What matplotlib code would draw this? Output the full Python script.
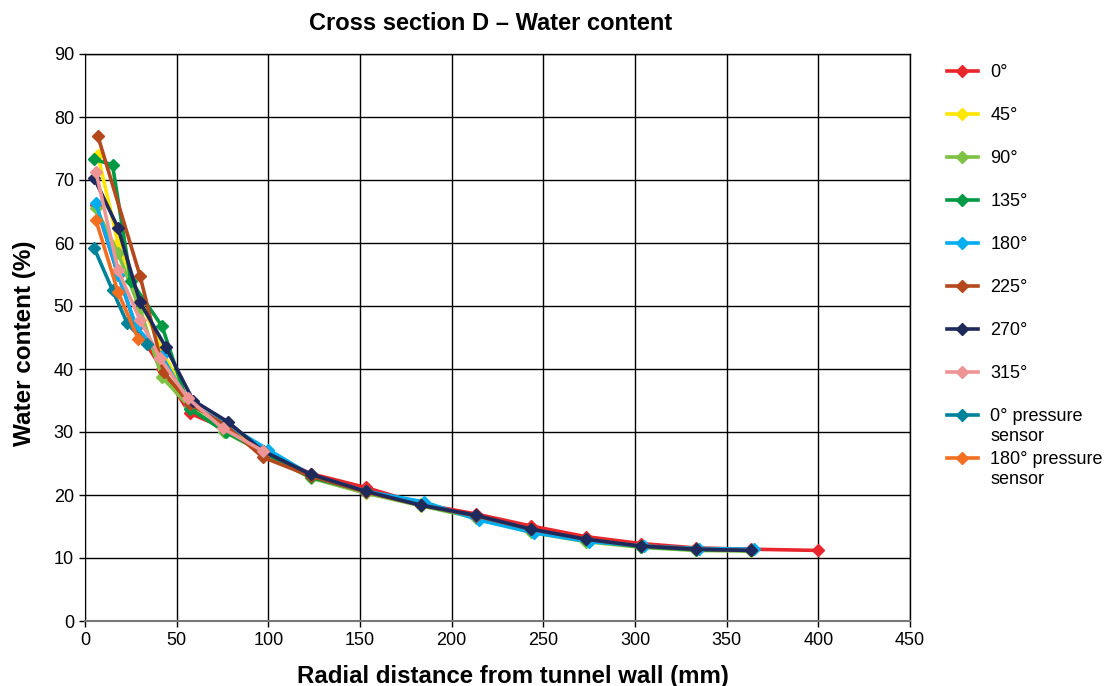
import matplotlib
matplotlib.use("Agg")
import matplotlib.pyplot as plt

plt.rcParams['font.family'] = ['Liberation Sans', 'DejaVu Sans']

# Radial distance (mm) and water content (%) per measuring direction
x_0 = [6, 18, 28, 42, 57, 77, 97, 123, 153, 183, 213, 243, 273, 303, 333, 363, 400]
y_0 = [66.0, 55.0, 46.5, 40.0, 33.0, 30.5, 27.0, 23.4, 21.2, 18.6, 17.0, 15.1, 13.4, 12.3, 11.6, 11.4, 11.2]

x_45 = [7, 18, 30, 42, 57, 77, 97, 123, 153, 183, 213, 243, 273, 303, 333, 363]
y_45 = [74.0, 60.0, 51.0, 43.0, 34.5, 31.0, 27.0, 23.0, 20.6, 18.5, 16.6, 14.5, 12.9, 11.9, 11.4, 11.2]

x_90 = [6, 18, 30, 42, 57, 76, 97, 123, 153, 183, 213, 243, 273, 303, 333, 363]
y_90 = [65.5, 58.4, 49.5, 38.7, 34.0, 30.0, 26.8, 22.7, 20.3, 18.3, 16.4, 14.1, 12.6, 11.7, 11.2, 11.1]

x_135 = [5, 15, 25, 42, 57, 77, 97, 123, 153, 183, 213, 243, 273, 303, 333, 363]
y_135 = [73.3, 72.4, 54.0, 46.8, 33.7, 30.0, 26.8, 22.8, 20.6, 18.4, 16.6, 14.4, 12.8, 11.8, 11.3, 11.2]

x_180 = [6, 18, 28, 42, 57, 77, 100, 123, 153, 185, 215, 245, 275, 305, 335, 365]
y_180 = [66.3, 55.0, 46.7, 42.0, 34.5, 31.2, 27.2, 23.2, 20.6, 18.9, 16.0, 14.0, 12.6, 11.9, 11.5, 11.4]

x_225 = [7, 30, 43, 57, 77, 97, 123, 153, 183, 213, 243, 273, 303, 333, 363]
y_225 = [77.0, 54.8, 39.5, 34.5, 31.0, 26.0, 23.0, 20.5, 18.4, 16.7, 14.6, 13.0, 11.9, 11.4, 11.2]

x_270 = [5, 18, 30, 44, 59, 78, 97, 123, 153, 183, 213, 243, 273, 303, 333, 363]
y_270 = [70.3, 62.4, 50.6, 43.5, 35.0, 31.6, 27.0, 23.3, 20.6, 18.4, 16.8, 14.6, 13.0, 11.9, 11.4, 11.2]

x_315 = [6, 18, 30, 41, 56, 75, 97]
y_315 = [71.3, 55.7, 47.8, 41.7, 35.4, 30.6, 27.0]

x_0ps = [5, 15, 23, 34]
y_0ps = [59.2, 52.5, 47.3, 44.0]

x_180ps = [6, 18, 29]
y_180ps = [63.6, 52.2, 44.8]

labels = ['0°', '45°', '90°', '135°', '180°', '225°', '270°', '315°',
          '0° pressure', '180° pressure']
# second line of the two pressure-sensor legend labels
label_tails = {8: 'sensor', 9: 'sensor'}
colors = ['#E8262B', '#FFE600', '#7DC242', '#009A44', '#00AEEF',
          '#B5481C', '#1F2A5C', '#EE9494', '#00829B', '#F26E21']
series_x = [x_0, x_45, x_90, x_135, x_180, x_225, x_270, x_315, x_0ps, x_180ps]
series_y = [y_0, y_45, y_90, y_135, y_180, y_225, y_270, y_315, y_0ps, y_180ps]

fig = plt.figure(figsize=(11.1, 6.86), dpi=100)
ax = fig.add_axes([85 / 1110, 65 / 686, 825 / 1110, 567 / 686])

for xs, ys, lab, col in zip(series_x, series_y, labels, colors):
    ax.plot(xs, ys, color=col, lw=2.6, marker='D', markersize=6,
            markeredgecolor=col, label=lab)

ax.set_xlim(0, 450)
ax.set_ylim(0, 90)
ax.set_xticks(range(0, 451, 50))
ax.set_yticks(range(0, 91, 10))
ax.grid(True, color='black', lw=1.0)
ax.set_axisbelow(True)
for side in ['top', 'right']:
    ax.spines[side].set_color('black')
    ax.spines[side].set_linewidth(1.0)
ax.spines['left'].set_color('black')
ax.spines['bottom'].set_color('#777777')
ax.spines['bottom'].set_linewidth(1.5)
ax.tick_params(axis='both', direction='out', length=4, width=1,
               labelsize=13, pad=4)

ax.set_title('Cross section D – Water content', fontsize=17,
             fontweight='bold', pad=17)
ax.title.set_x(0.492)
ax.set_xlabel('Radial distance from tunnel wall (mm)', fontsize=17.3,
              fontweight='bold', labelpad=11.5)
ax.xaxis.label.set_x(0.519)
ax.set_ylabel('Water content (%)', fontsize=17.5, fontweight='bold',
              labelpad=13)
ax.yaxis.label.set_y(0.49)

leg = ax.legend(loc='upper left', bbox_to_anchor=(1.036, 0.995),
                frameon=False, fontsize=13, handlelength=1.7,
                handletextpad=0.7, labelspacing=1.44, borderaxespad=0)

for idx, tail in label_tails.items():
    ax.annotate(tail, xy=(0, 0), xycoords=leg.get_texts()[idx],
                xytext=(0, -11.5), textcoords='offset points',
                fontsize=13, ha='left', va='baseline',
                annotation_clip=False, zorder=10)

fig.savefig('out.png', dpi=100)
